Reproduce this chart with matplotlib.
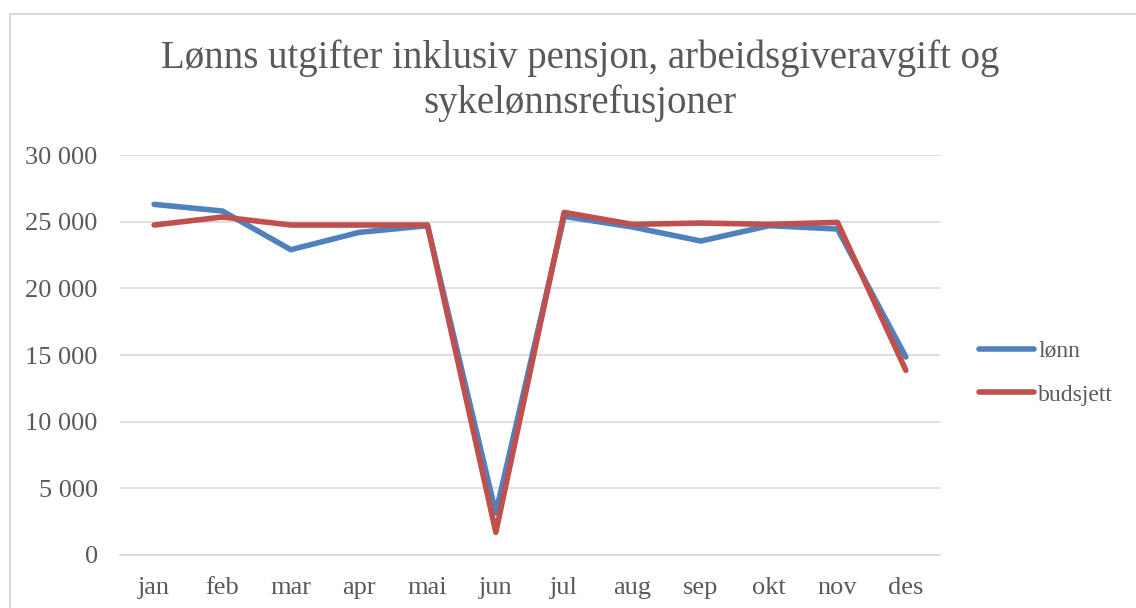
import matplotlib
matplotlib.use("Agg")
import matplotlib.pyplot as plt
from matplotlib.patches import Rectangle

# monthly values
months = ["jan", "feb", "mar", "apr", "mai", "jun", "jul", "aug", "sep", "okt", "nov", "des"]
lonn = [26300, 25800, 22900, 24200, 24700, 3150, 25400, 24600, 23550, 24700, 24450, 14850]
budsjett = [24750, 25350, 24750, 24750, 24750, 1700, 25700, 24800, 24900, 24800, 24950, 13850]
yticks = [0, 5000, 10000, 15000, 20000, 25000, 30000]

txt = "#595959"
plt.rcParams['font.family'] = ['Liberation Serif', 'DejaVu Serif']

fig = plt.figure(figsize=(11.36, 6.08), dpi=100)
ax = fig.add_axes([0.1056, 0.0872, 0.7219, 0.6578])

# chart area border
fig.patches.append(Rectangle((10 / 1136, -0.1), 1.2, 1 - 14 / 608 + 0.1,
                             transform=fig.transFigure, fill=False,
                             edgecolor="#d9d9d9", linewidth=1.5))

x = range(len(months))
ax.plot(x, lonn, color="#4f81bd", lw=4, solid_capstyle="round", solid_joinstyle="round", label="lønn")
ax.plot(x, budsjett, color="#c0504d", lw=4, solid_capstyle="round", solid_joinstyle="round", label="budsjett")

ax.set_xlim(-0.5, len(months) - 0.5)
ax.set_ylim(0, 30000)
ax.set_yticks(yticks)
ax.set_yticklabels([f"{v:,}".replace(",", " ") for v in yticks])
ax.set_xticks(list(x))
ax.set_xticklabels(months)
ax.grid(axis="y", color="#d9d9d9", lw=1.2)
ax.set_axisbelow(True)
for s in ["top", "right", "left"]:
    ax.spines[s].set_visible(False)
ax.spines["bottom"].set_color("#d9d9d9")
ax.spines["bottom"].set_linewidth(1.2)
ax.tick_params(length=0, colors=txt, labelsize=19)
ax.tick_params(axis="y", pad=16)
ax.tick_params(axis="x", pad=16)

fig.text(0.5106, 0.935, "Lønns utgifter inklusiv pensjon, arbeidsgiveravgift og\nsykelønnsrefusjoner",
         ha="center", va="top", fontsize=28, color=txt, linespacing=1.25)

ax.legend(loc="center left", bbox_to_anchor=(1.021, 0.455), frameon=False,
          fontsize=17, labelcolor=txt, handlelength=2.33, handletextpad=0.2,
          labelspacing=0.95)

fig.savefig("out.png", dpi=100)
